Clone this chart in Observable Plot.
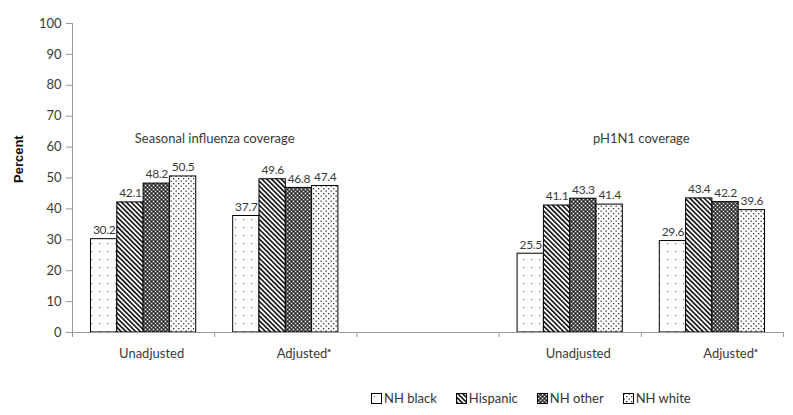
<!DOCTYPE html>
<html><head><meta charset="utf-8">
<script src="https://cdn.jsdelivr.net/npm/d3@7"></script>
<script src="https://cdn.jsdelivr.net/npm/@observablehq/plot@0.6"></script>
<style>
body{margin:0;background:#fff;font-family:Lato,"Open Sans",sans-serif;}
#legend{display:flex;align-items:center;margin:8px 0 0 371px;height:20px;font-size:13px;color:#333;}
#legend .item{display:flex;align-items:center;margin-right:19px;}
#legend svg{margin-right:2px;}
svg.chart g[aria-label="y-axis tick"] path, svg.chart g[aria-label="x-axis tick"] path{stroke:#999;}
svg.chart g.vals text{letter-spacing:-0.3px;}
</style></head><body>
<div id="chart"></div>
<div id="legend"></div>
<script>
// ---- data ----
const categories = ["Unadjusted", "Adjusted\u1d43", "Unadjusted", "Adjusted\u1d43"];
const groupTitles = ["Seasonal influenza coverage", "pH1N1 coverage"];
const series = ["NH black", "Hispanic", "NH other", "NH white"];
const nhBlack  = [30.2, 37.7, 25.5, 29.6];
const hispanic = [42.1, 49.6, 41.1, 43.4];
const nhOther  = [48.2, 46.8, 43.3, 42.2];
const nhWhite  = [50.5, 47.4, 41.4, 39.6];
const yTicks = [0, 10, 20, 30, 40, 50, 60, 70, 80, 90, 100];
const yLabel = "Percent";

// ---- layout helpers ----
const seriesValues = [nhBlack, hispanic, nhOther, nhWhite];
const slotOf = i => (i < 2 ? i : i + 1);   // 5 slots, slot 2 empty
const barW = 0.185, barOff = 0.13;
const rows = [];
series.forEach((s, si) => seriesValues[si].forEach((v, ci) => {
  const x1 = slotOf(ci) + barOff + si * barW;
  rows.push({series: s, si, ci, value: v, x1, x2: x1 + barW});
}));
const catRows = categories.map((c, ci) => ({label: c, x: slotOf(ci) + 0.5, adj: ci % 2}));
const titleRows = groupTitles.map((t, gi) => ({label: t, x: (slotOf(gi * 2) + slotOf(gi * 2 + 1) + 1) / 2}));

const txt = "#3a3a3a";
const marks = [];
series.forEach((s, si) => {
  marks.push(Plot.rect(rows.filter(d => d.si === si), {
    x1: "x1", x2: "x2", y1: 0, y2: "value",
    fill: `url(#pat${si})`, stroke: "#000", strokeWidth: 1
  }));
});
marks.push(
  Plot.ruleY([0], {stroke: "#999"}),
  Plot.ruleX([0], {stroke: "#999"}),
  Plot.axisY({ticks: yTicks, tickSize: 6, tickPadding: 5, label: null, fontSize: 13, color: txt, tickFormat: d => d}),
  Plot.axisX({ticks: d3.range(0, 6), tickSize: 5, tickFormat: () => "", label: null}),
  Plot.text(rows, {x: d => (d.x1 + d.x2) / 2, y: "value", text: d => d.value.toFixed(1), dy: -9, fontSize: 12, fill: txt, className: "vals"}),
  Plot.text(catRows.filter(d => !d.adj), {x: "x", text: "label", frameAnchor: "bottom", dy: 25, dx: 8, fontSize: 13, fill: txt}),
  Plot.text(catRows.filter(d => d.adj), {x: "x", text: "label", frameAnchor: "bottom", dy: 25, dx: 18, fontSize: 13, fill: txt}),
  Plot.text(titleRows, {x: "x", text: "label", frameAnchor: "top", dy: 110, fontSize: 13, fill: txt}),
  Plot.text([yLabel], {text: d => d, frameAnchor: "left", dx: -54, dy: 5, rotate: -90, fontSize: 13, fontWeight: "bold", fontFamily: "Liberation Sans, Arial, sans-serif", fill: "#111"})
);

const svg = Plot.plot({
  width: 793, height: 380,
  marginLeft: 72, marginRight: 10, marginTop: 23, marginBottom: 48,
  className: "chart",
  style: {fontFamily: "Lato, 'Open Sans', sans-serif", background: "#fff"},
  x: {domain: [0, 5], axis: null},
  y: {domain: [0, 100], axis: null},
  marks
});

// patterns
const defs = d3.select(svg).insert("defs", ":first-child");
{
  const p0 = defs.append("pattern").attr("id", "pat0").attr("patternUnits", "userSpaceOnUse").attr("width", 8).attr("height", 8);
  p0.append("rect").attr("width", 8).attr("height", 8).attr("fill", "#fff");
  p0.append("rect").attr("x", 3).attr("y", 3).attr("width", 1.2).attr("height", 1.2).attr("fill", "#777");
  const p1 = defs.append("pattern").attr("id", "pat1").attr("patternUnits", "userSpaceOnUse").attr("width", 3.4).attr("height", 3.4).attr("patternTransform", "rotate(-45)");
  p1.append("rect").attr("width", 3.4).attr("height", 3.4).attr("fill", "#fff");
  p1.append("rect").attr("width", 1.6).attr("height", 3.4).attr("fill", "#111");
  const p2 = defs.append("pattern").attr("id", "pat2").attr("patternUnits", "userSpaceOnUse").attr("width", 4).attr("height", 4);
  p2.append("rect").attr("width", 4).attr("height", 4).attr("fill", "#5a5a5a");
  p2.append("rect").attr("x", 1).attr("y", 1).attr("width", 1).attr("height", 1).attr("fill", "#fff");
  p2.append("rect").attr("x", 3).attr("y", 3).attr("width", 1).attr("height", 1).attr("fill", "#ddd");
  p2.append("rect").attr("x", 3).attr("y", 1).attr("width", 1).attr("height", 1).attr("fill", "#222");
  p2.append("rect").attr("x", 1).attr("y", 3).attr("width", 1).attr("height", 1).attr("fill", "#222");
  const p3 = defs.append("pattern").attr("id", "pat3").attr("patternUnits", "userSpaceOnUse").attr("width", 5).attr("height", 5);
  p3.append("rect").attr("width", 5).attr("height", 5).attr("fill", "#fff");
  p3.append("rect").attr("x", 0.5).attr("y", 0.5).attr("width", 1.3).attr("height", 1.3).attr("fill", "#333");
  p3.append("rect").attr("x", 3).attr("y", 3).attr("width", 1.3).attr("height", 1.3).attr("fill", "#333");
}
document.getElementById("chart").appendChild(svg);

// legend
const legend = d3.select("#legend");
series.forEach((s, si) => {
  const item = legend.append("div").attr("class", "item");
  const sw = item.append("svg").attr("width", 11).attr("height", 11);
  sw.append("rect").attr("x", 0.5).attr("y", 0.5).attr("width", 10).attr("height", 10)
    .attr("fill", `url(#pat${si})`).attr("stroke", "#000");
  item.append("span").text(s);
});
</script>
</body></html>
